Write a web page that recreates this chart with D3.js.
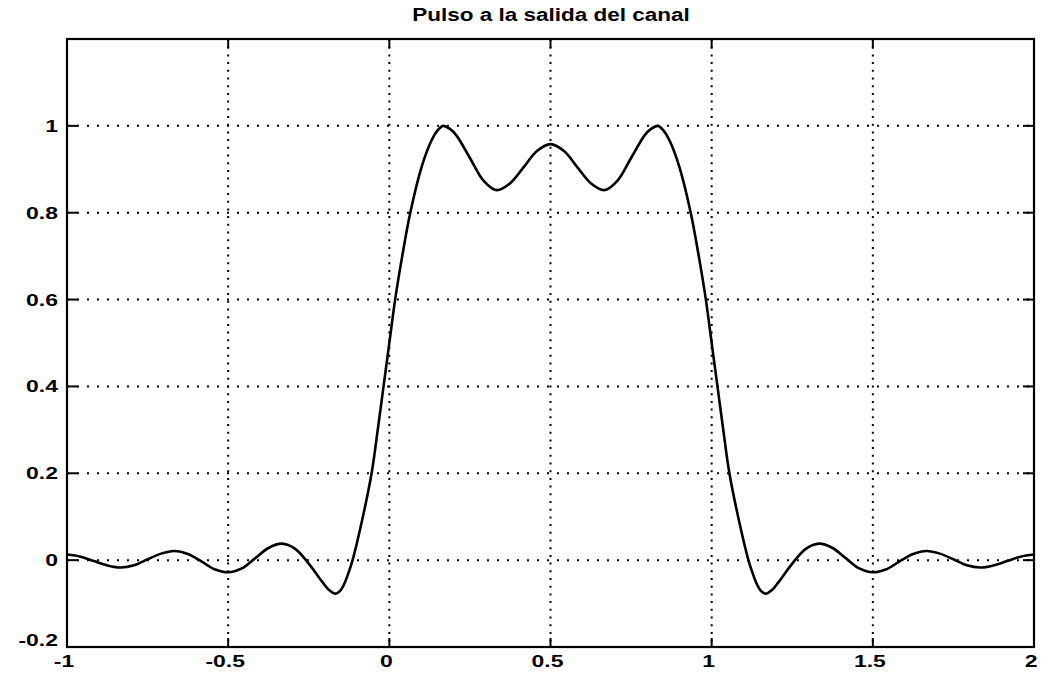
<!DOCTYPE html>
<html>
<head>
<meta charset="utf-8">
<title>Pulso a la salida del canal</title>
<script src="https://d3js.org/d3.v7.min.js"></script>
<style>
  body { margin: 0; background: #fff; }
  text { font-family: "Liberation Sans", Arial, Helvetica, sans-serif; font-weight: bold; fill: #000; }
</style>
</head>
<body>
<svg width="1041" height="676"></svg>
<script>
// time values (s) and pulse amplitude
var tVals = [-1, -0.958, -0.917, -0.875, -0.833, -0.792, -0.75, -0.708, -0.667, -0.625, -0.583, -0.542,
  -0.5, -0.458, -0.417, -0.375, -0.333, -0.292, -0.25, -0.208, -0.188, -0.167, -0.152, -0.14, -0.127,
  -0.114, -0.085, -0.055, -0.036, -0.018, 0, 0.018, 0.04, 0.065, 0.1, 0.13, 0.148, 0.167, 0.188, 0.208,
  0.25, 0.292, 0.333, 0.375, 0.417, 0.458, 0.5,
  0.542, 0.583, 0.625, 0.667, 0.708, 0.75, 0.792, 0.812, 0.833, 0.852, 0.87, 0.9, 0.935, 0.96, 0.982,
  1, 1.018, 1.036, 1.055, 1.085, 1.114, 1.127, 1.14, 1.152, 1.167, 1.188, 1.208, 1.25, 1.292, 1.333,
  1.375, 1.417, 1.458, 1.5, 1.542, 1.583, 1.625, 1.667, 1.708, 1.75, 1.792, 1.833, 1.875, 1.917, 1.958, 2];
var yVals = [0.013, 0.008, -0.002, -0.012, -0.017, -0.012, 0.002, 0.015, 0.021, 0.014, -0.003, -0.021,
  -0.028, -0.019, 0.004, 0.028, 0.038, 0.026, -0.008, -0.05, -0.068, -0.077, -0.07, -0.055, -0.03,
  0.0, 0.09, 0.2, 0.3, 0.4, 0.5, 0.6, 0.7, 0.8, 0.905, 0.965, 0.988, 1.0, 0.993, 0.978,
  0.926, 0.874, 0.852, 0.868, 0.905, 0.942, 0.958,
  0.942, 0.905, 0.868, 0.852, 0.874, 0.926, 0.978, 0.993, 1.0, 0.988, 0.965, 0.905, 0.8, 0.7, 0.6,
  0.5, 0.4, 0.3, 0.2, 0.09, 0.0, -0.03, -0.055, -0.07, -0.077, -0.068, -0.05, -0.008, 0.026, 0.038,
  0.028, 0.004, -0.019, -0.028, -0.021, -0.003, 0.014, 0.021, 0.015, 0.002, -0.012, -0.017, -0.012, -0.002, 0.008, 0.013];

var xTicks = [-1, -0.5, 0, 0.5, 1, 1.5, 2];
var yTicks = [-0.2, 0, 0.2, 0.4, 0.6, 0.8, 1];
var titleText = "Pulso a la salida del canal";

var svg = d3.select("svg");
var pLeft = 67, pRight = 1034, pTop = 39, pBottom = 647;

var x = d3.scaleLinear().domain([-1, 2]).range([pLeft, pRight]);
var y = d3.scaleLinear().domain([-0.2, 1.2]).range([pBottom, pTop]);

// dotted grid
svg.selectAll(".vgrid")
  .data(xTicks.filter(function(d) { return d > -1 && d < 2; }))
  .enter().append("line")
    .attr("x1", function(d) { return x(d); })
    .attr("x2", function(d) { return x(d); })
    .attr("y1", pTop).attr("y2", pBottom)
    .attr("stroke", "#000").attr("stroke-width", 2)
    .attr("stroke-dasharray", "2,5.7");

svg.selectAll(".hgrid")
  .data(yTicks.filter(function(d) { return d > -0.2; }))
  .enter().append("line")
    .attr("x1", pLeft).attr("x2", pRight)
    .attr("y1", function(d) { return y(d); })
    .attr("y2", function(d) { return y(d); })
    .attr("stroke", "#000").attr("stroke-width", 2)
    .attr("stroke-dasharray", "2,8");

// ticks on all four sides, pointing inward
xTicks.forEach(function(d) {
  svg.append("line").attr("x1", x(d)).attr("x2", x(d)).attr("y1", pBottom).attr("y2", pBottom - 9)
    .attr("stroke", "#000").attr("stroke-width", 2);
  svg.append("line").attr("x1", x(d)).attr("x2", x(d)).attr("y1", pTop).attr("y2", pTop + 9)
    .attr("stroke", "#000").attr("stroke-width", 2);
});
yTicks.forEach(function(d) {
  svg.append("line").attr("x1", pLeft).attr("x2", pLeft + 11).attr("y1", y(d)).attr("y2", y(d))
    .attr("stroke", "#000").attr("stroke-width", 2);
  svg.append("line").attr("x1", pRight).attr("x2", pRight - 11).attr("y1", y(d)).attr("y2", y(d))
    .attr("stroke", "#000").attr("stroke-width", 2);
});

// frame
svg.append("rect")
  .attr("x", pLeft).attr("y", pTop)
  .attr("width", pRight - pLeft).attr("height", pBottom - pTop)
  .attr("fill", "none").attr("stroke", "#000").attr("stroke-width", 2.2);

// the curve
var pts = tVals.map(function(t, i) { return [t, yVals[i]]; });
var line = d3.line()
  .x(function(d) { return x(d[0]); })
  .y(function(d) { return y(d[1]); })
  .curve(d3.curveCatmullRom.alpha(0.5));

svg.append("path")
  .datum(pts)
  .attr("d", line)
  .attr("fill", "none")
  .attr("stroke", "#000")
  .attr("stroke-width", 2.6)
  .attr("stroke-linejoin", "round");

// tick labels (the scan is stretched sideways, so the glyphs are widened)
var sx = 1.35;
svg.selectAll(".xlab")
  .data(xTicks)
  .enter().append("text")
    .attr("transform", function(d) { return "translate(" + (x(d) - 3) + ",667) scale(" + sx + ",1)"; })
    .attr("text-anchor", "middle")
    .style("font-size", "17px")
    .text(function(d) { return d; });

svg.selectAll(".ylab")
  .data(yTicks)
  .enter().append("text")
    .attr("transform", function(d) {
      var yy = d === -0.2 ? y(d) - 1 : y(d) + 6;
      return "translate(58," + yy + ") scale(" + sx + ",1)";
    })
    .attr("text-anchor", "end")
    .style("font-size", "17px")
    .text(function(d) { return d; });

// title
svg.append("text")
  .attr("transform", "translate(551,21) scale(1.25,1)")
  .attr("text-anchor", "middle")
  .style("font-size", "18px")
  .text(titleText);
</script>
</body>
</html>
